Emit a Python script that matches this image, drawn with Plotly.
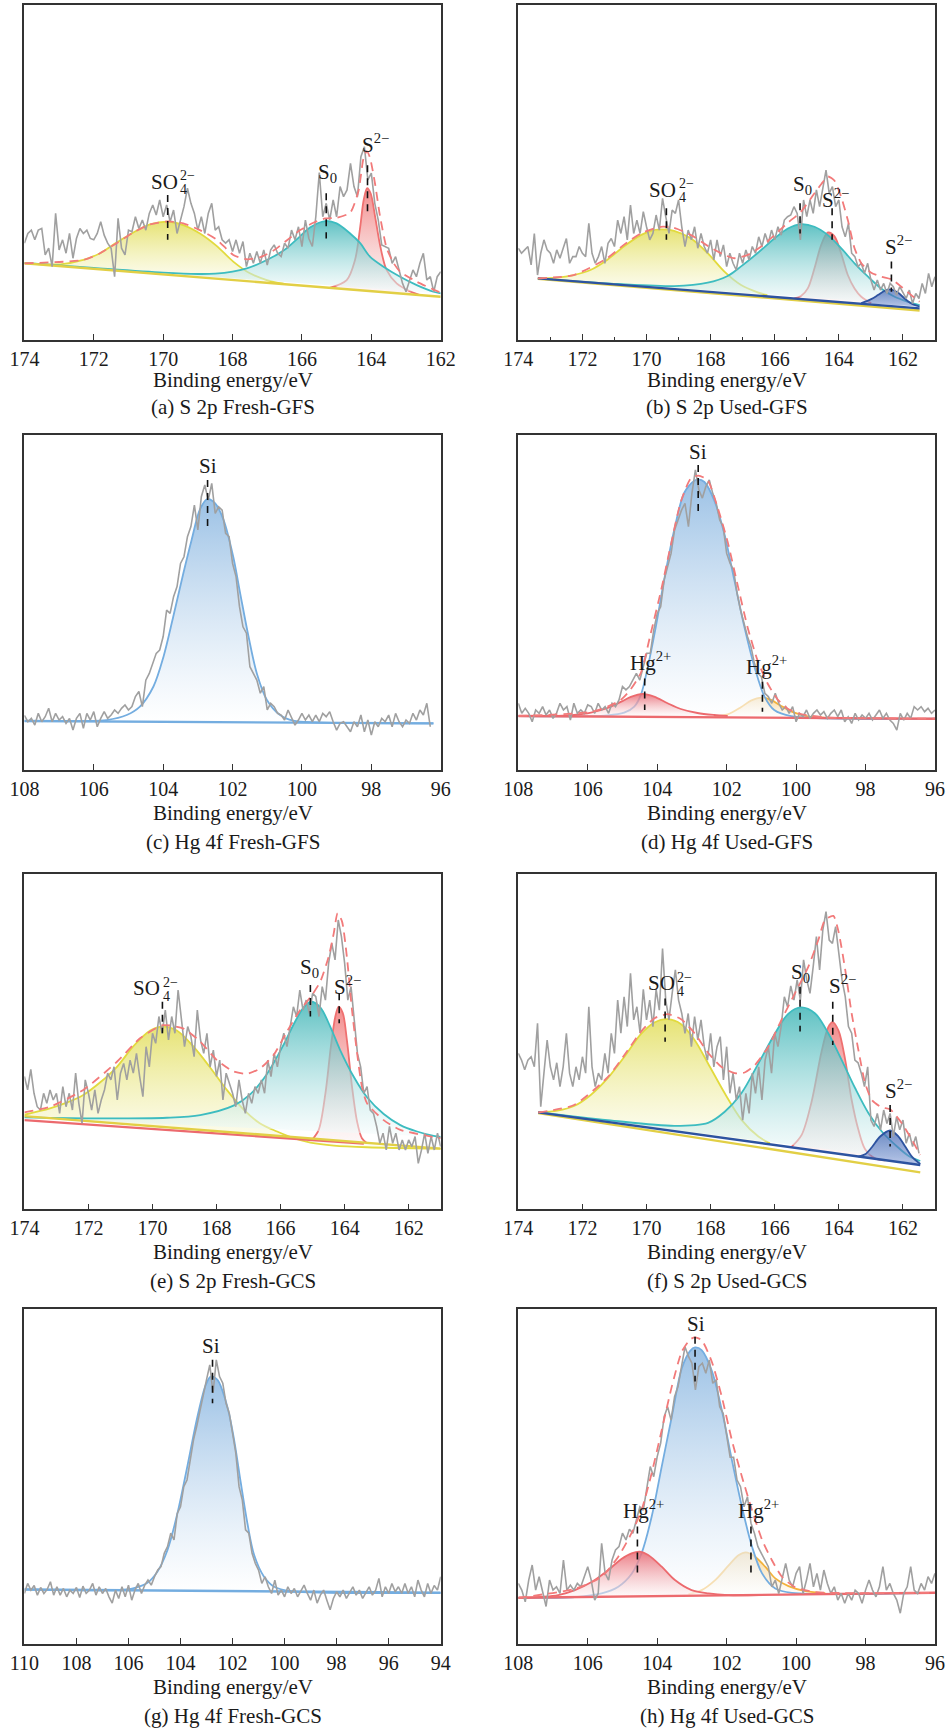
import plotly.graph_objects as go
from plotly.subplots import make_subplots

# ---------------- (a) S 2p Fresh-GFS ----------------
A_E0, A_DE = 174.0, -0.1
A_RAW = [28.9, 31.8, 32.8, 29.9, 32.8, 33.3, 25.4, 27.4, 21.9, 37.8,
         26.9, 29.9, 25.9, 31.8, 24.4, 30.3, 33.3, 31.8, 32.8, 30.3,
         29.9, 31.8, 35.3, 31.3, 28.9, 27.4, 18.9, 36.3, 27.4, 25.4,
         32.8, 32.3, 36.8, 33.3, 35.8, 32.8, 37.8, 40.3, 37.3, 41.8,
         36.8, 40.3, 35.3, 38.8, 31.8, 36.3, 39.8, 45.3, 40.8, 37.8,
         32.8, 36.8, 31.8, 37.8, 40.8, 32.8, 33.8, 29.9, 28.9, 29.9,
         26.4, 29.9, 25.9, 29.4, 21.9, 25.9, 22.9, 26.4, 22.9, 26.9,
         22.4, 26.9, 28.4, 25.9, 24.9, 28.9, 27.4, 32.8, 29.9, 33.8,
         27.9, 35.8, 30.3, 27.9, 36.8, 50.0, 36.8, 40.8, 35.8, 41.8,
         36.8, 45.8, 42.8, 44.8, 52.7, 45.8, 42.8, 54.7, 57.7, 47.8,
         49.8, 40.8, 35.8, 28.4, 27.9, 27.4, 22.9, 24.9, 20.9, 16.9,
         14.4, 17.9, 20.9, 18.9, 22.9, 25.9, 17.9, 18.9, 14.4, 18.9,
         20.4]
A_BASE_E = [174.0, 162.0]
A_BASE = [22.9, 12.9]
A_SO4_E = [174.0, 172.97, 172.30, 171.82, 171.34, 170.86, 170.38, 169.85, 169.42, 168.94, 168.46, 167.98, 167.50, 167.01, 166.53]
A_SO4 = [22.9, 22.6, 23.9, 25.9, 29.1, 32.1, 34.5, 35.3, 34.3, 31.8, 28.1, 23.4, 19.9, 17.9, 16.8]
A_S0_E = [174.0, 172.0, 170.0, 169.0, 168.5, 168.0, 167.59, 167.21, 166.82, 166.44, 166.05, 165.77, 165.33, 165.00, 164.61, 164.32, 164.04, 163.65, 163.17, 162.69, 162.21, 162.0]
A_S0 = [23.0, 21.5, 20.1, 19.7, 19.8, 20.4, 21.4, 22.9, 24.9, 27.4, 31.0, 33.6, 35.5, 34.8, 31.8, 28.9, 24.9, 21.9, 18.9, 16.4, 14.4, 13.9]
A_S2_E = [165.2, 164.71, 164.47, 164.32, 164.22, 164.12, 164.02, 163.89, 163.74, 163.56, 163.27, 162.9, 162.6]
A_S2 = [15.6, 17.9, 23.9, 33.8, 41.8, 45.3, 43.8, 36.8, 27.9, 20.9, 16.9, 14.6, 13.4]
A_FIT_E = [174.0, 172.30, 171.82, 171.34, 170.86, 170.38, 169.85, 169.42, 168.94, 168.46, 167.98, 167.59, 167.21, 166.82, 166.44, 166.05,
           165.67, 165.33, 165.00, 164.61, 164.37, 164.23, 164.13, 164.04, 163.89, 163.75, 163.56, 163.36, 163.17, 162.69, 162.0]
A_FIT = [22.9, 23.9, 25.9, 28.9, 32.1, 34.5, 35.4, 34.8, 32.8, 30.0, 25.4, 24.1, 24.7, 26.7, 29.7, 32.8,
         35.0, 36.3, 36.5, 38.0, 44.5, 54.0, 56.4, 54.5, 46.5, 37.0, 27.5, 23.0, 20.4, 17.4, 14.1]
A_LABELS = [("SO4", 169.97, 47.3), ("S0", 165.43, 49.8), ("S2", 164.15, 58.7)]
A_MARKS = [(169.87, 43.3, 29.9), (165.30, 43.8, 30.3), (164.11, 52.2, 38.3)]

# ---------------- (b) S 2p Used-GFS ----------------
B_E0, B_DE = 174.0, -0.1
B_RAW = [27.4, 25.9, 26.9, 27.9, 22.4, 31.8, 19.4, 25.9, 29.9, 26.9,
         25.9, 22.9, 26.9, 24.4, 27.4, 30.3, 22.9, 24.9, 24.9, 27.9,
         25.9, 24.9, 34.8, 25.9, 22.9, 24.9, 27.9, 22.9, 28.9, 30.3,
         27.9, 35.8, 31.8, 36.8, 29.9, 40.3, 31.8, 35.8, 31.8, 38.3,
         33.8, 29.9, 31.8, 37.3, 32.8, 42.3, 36.8, 31.8, 38.8, 37.8,
         41.8, 33.8, 27.9, 32.8, 29.9, 33.8, 27.4, 31.8, 27.9, 25.9,
         29.9, 23.9, 29.9, 24.9, 28.4, 21.9, 25.9, 22.9, 20.9, 25.9,
         22.9, 26.9, 23.9, 27.9, 25.9, 30.8, 27.9, 31.8, 28.9, 32.8,
         29.9, 33.8, 31.3, 35.8, 36.8, 37.3, 39.8, 37.8, 29.9, 41.8,
         36.8, 41.8, 37.8, 44.8, 39.8, 45.8, 50.7, 43.8, 45.8, 39.8,
         41.8, 33.8, 30.8, 34.8, 25.9, 24.9, 21.9, 22.9, 19.9, 22.9,
         17.9, 14.9, 17.9, 14.9, 16.9, 13.9, 16.9, 15.9, 13.4, 15.9,
         13.9, 12.4, 14.9, 10.9, 13.9, 12.4, 16.9, 13.9, 19.9, 15.9,
         18.9]
B_BASE_E = [173.39, 161.48]
B_BASE = [18.4, 9.45]
B_YBASE = [18.3, 8.8]
B_SO4_E = [173.39, 172.79, 172.27, 171.75, 171.23, 170.71, 170.18, 169.86, 169.55, 169.14, 168.61, 168.09, 167.57, 167.05, 166.53, 166.23]
B_SO4 = [18.4, 18.6, 19.4, 20.9, 23.9, 27.9, 31.3, 32.6, 33.0, 32.6, 30.3, 25.9, 20.4, 16.4, 14.2, 13.4]
B_S0_E = [173.39, 171.23, 169.14, 168.09, 167.47, 167.06, 166.54, 166.01, 165.59, 165.18, 164.76, 164.34, 163.93, 163.51, 163.09, 162.68, 162.26, 161.84, 161.48]
B_S0 = [18.4, 16.9, 16.1, 17.1, 19.1, 21.9, 25.9, 30.3, 33.3, 34.6, 33.8, 31.3, 27.4, 22.9, 18.9, 15.4, 12.9, 11.4, 10.4]
B_S2_E = [165.39, 165.18, 164.97, 164.76, 164.55, 164.34, 164.14, 163.93, 163.72, 163.51, 163.30, 162.99]
B_S2 = [12.4, 13.1, 15.4, 21.4, 28.4, 32.1, 31.0, 25.9, 19.4, 15.4, 12.9, 11.0]
B_S2B_E = [163.30, 162.99, 162.78, 162.57, 162.39, 162.16, 161.95, 161.74, 161.48]
B_S2B = [11.0, 12.2, 13.4, 14.7, 15.1, 14.2, 12.4, 10.9, 10.0]
B_FIT_E = [173.39, 172.27, 171.23, 170.71, 170.18, 169.55, 169.14, 168.61, 168.09, 167.57, 167.25, 166.84, 166.42, 166.01, 165.59,
           165.18, 164.76, 164.55, 164.34, 164.14, 163.93, 163.72, 163.51, 163.30, 162.99, 162.68, 162.36, 162.05, 161.74, 161.48]
B_FIT = [18.4, 19.4, 24.4, 28.4, 31.8, 33.8, 33.5, 31.3, 28.1, 25.4, 24.4, 25.4, 27.9, 31.3, 35.0,
         38.3, 43.8, 46.5, 48.8, 47.6, 42.8, 35.8, 27.4, 22.9, 20.1, 18.9, 18.1, 15.9, 13.4, 11.4]
B_LABELS = [("SO4", 169.5, 44.8), ("S0", 165.31, 46.3), ("S2", 164.40, 42.3), ("S2", 162.42, 28.2)]
B_MARKS = [(169.38, 39.3, 29.9), (165.21, 40.8, 31.8), (164.21, 39.3, 29.9), (162.36, 23.4, 14.4)]

# ---------------- (c) Hg 4f Fresh-GFS ----------------
C_E0, C_DE = 108.0, -0.1
C_RAW = [16.3, 14.4, 15.4, 13.4, 16.9, 14.4, 15.9, 18.4, 14.4, 16.9,
         14.9, 15.9, 13.9, 15.4, 11.9, 15.4, 16.9, 12.4, 16.9, 14.9,
         17.4, 12.9, 15.4, 17.4, 15.4, 16.4, 17.9, 16.9, 18.4, 19.4,
         17.9, 18.9, 21.9, 23.4, 18.9, 26.8, 28.8, 31.8, 34.8, 35.8,
         39.8, 47.7, 46.7, 51.7, 54.7, 61.6, 63.6, 69.6, 72.6, 79.0,
         71.6, 81.5, 85.0, 80.5, 85.5, 76.5, 78.5, 77.5, 70.6, 69.6,
         61.6, 57.7, 48.7, 42.7, 40.8, 30.8, 28.8, 26.8, 22.9, 24.9,
         17.9, 19.9, 18.9, 16.9, 16.4, 14.9, 17.9, 15.4, 13.4, 14.9,
         16.9, 14.9, 16.4, 14.4, 16.4, 14.4, 16.9, 15.9, 17.4, 14.4,
         11.9, 13.9, 14.4, 12.9, 11.4, 14.4, 12.9, 16.4, 11.4, 14.9,
         10.4, 14.4, 12.9, 15.4, 14.4, 16.4, 12.9, 16.9, 14.4, 12.9,
         14.9, 13.9, 16.9, 14.9, 17.9, 16.4, 19.9, 12.9]
C_BASE_E = [108.0, 96.21]
C_BASE = [14.6, 13.9]
C_SI_E = [108.00, 106.30, 105.63, 105.05, 104.67, 104.28, 103.99, 103.71, 103.42, 103.18, 102.94, 102.73,
          102.50, 102.26, 101.98, 101.78, 101.54, 101.30, 101.01, 100.63, 100.25, 99.57, 96.21]
C_SI = [14.6, 14.6, 14.9, 16.4, 18.9, 24.9, 33.8, 45.7, 58.6, 68.6, 77.7, 80.8,
        79.5, 74.6, 63.6, 52.7, 39.8, 28.8, 20.9, 16.4, 14.7, 14.2, 13.9]
C_LABELS = [("Si", 102.72, 90.8)]
C_MARKS = [(102.72, 86.5, 72.6)]

# ---------------- (d) Hg 4f Used-GFS ----------------
D_E0, D_DE = 108.0, -0.1
D_RAW = [19.9, 16.9, 18.4, 16.9, 14.4, 17.9, 16.9, 18.9, 16.4, 17.9,
         15.4, 16.9, 19.9, 17.9, 18.9, 14.9, 19.9, 16.9, 17.9, 16.9,
         19.4, 18.9, 16.9, 19.9, 17.9, 18.9, 16.9, 19.9, 18.9, 20.9,
         24.9, 23.9, 24.9, 26.8, 28.8, 26.8, 30.8, 34.8, 34.8, 41.7,
         46.7, 48.7, 56.7, 60.6, 64.6, 71.6, 74.6, 77.5, 79.5, 72.6,
         82.5, 89.5, 83.5, 81.1, 84.5, 86.5, 82.5, 79.5, 74.6, 72.6,
         64.6, 61.6, 59.6, 52.7, 47.7, 43.7, 39.8, 36.8, 31.8, 28.8,
         27.8, 22.9, 21.9, 19.9, 22.9, 19.9, 17.9, 18.9, 16.9, 18.9,
         14.4, 16.9, 15.9, 17.9, 15.4, 16.9, 17.9, 16.4, 17.4, 15.4,
         16.9, 17.9, 15.9, 17.9, 14.4, 15.9, 13.9, 16.9, 14.9, 16.4,
         15.4, 16.9, 14.9, 16.4, 17.9, 15.4, 16.9, 14.9, 13.9, 11.9,
         16.9, 14.9, 16.9, 15.4, 18.9, 17.9, 18.9, 17.4, 18.4, 16.9,
         17.9]
D_BASE_E = [108.0, 96.0]
D_BASE = [16.1, 15.3]
D_SI_E = [108.00, 105.43, 104.95, 104.66, 104.47, 104.28, 104.04, 103.80, 103.51, 103.22, 102.93,
          102.82, 102.64, 102.36, 102.07, 101.78, 101.49, 101.20, 100.91, 100.63, 100.14, 96.00]
D_SI = [16.1, 16.3, 17.1, 18.9, 22.4, 30.3, 42.7, 56.7, 71.6, 82.7, 86.3,
        86.7, 85.9, 80.5, 70.6, 56.7, 42.7, 30.8, 21.9, 17.9, 16.1, 15.3]
D_HG1_E = [106.88, 106.39, 105.91, 105.43, 105.05, 104.76, 104.42, 104.09, 103.70, 103.32, 102.84, 102.36, 101.97]
D_HG1 = [16.1, 16.4, 17.1, 18.5, 20.3, 21.8, 22.7, 21.9, 19.9, 18.2, 17.0, 16.4, 16.1]
D_HG2_E = [102.36, 101.97, 101.59, 101.30, 100.99, 100.72, 100.43, 100.05, 99.66, 99.18]
D_HG2 = [16.0, 16.6, 18.7, 20.7, 21.6, 20.9, 19.1, 17.1, 16.0, 15.6]
D_FIT_E = [108.0, 105.91, 105.43, 105.05, 104.76, 104.47, 104.18, 103.89, 103.61, 103.32, 103.03, 102.82,
           102.55, 102.26, 101.97, 101.68, 101.39, 101.11, 100.82, 100.53, 100.24, 99.86, 99.18, 96.0]
D_FIT = [16.1, 17.3, 18.9, 20.9, 24.1, 29.0, 41.0, 53.5, 67.0, 80.0, 87.0, 87.8,
         86.5, 78.3, 68.0, 55.0, 42.3, 32.7, 25.8, 21.0, 18.3, 16.7, 15.7, 15.3]
D_LABELS = [("Si", 102.82, 94.9), ("Hg", 104.47, 32.3), ("Hg", 101.13, 31.3)]
D_MARKS = [(102.82, 91.0, 76.5), (104.36, 27.3, 17.9), (100.97, 26.3, 17.4)]

# ---------------- (e) S 2p Fresh-GCS ----------------
E_E0, E_DE = 174.0, -0.1
E_RAW = [39.6, 35.6, 41.7, 34.6, 30.6, 29.6, 34.6, 31.6, 35.6, 32.6,
         34.6, 28.6, 36.6, 30.6, 34.6, 29.6, 40.6, 31.6, 25.6, 38.6,
         34.6, 29.6, 35.6, 28.6, 32.6, 35.6, 40.6, 38.6, 42.5, 32.6,
         40.6, 43.5, 38.6, 44.5, 40.6, 46.5, 39.6, 33.6, 48.5, 42.5,
         52.5, 49.5, 57.5, 52.5, 59.4, 50.5, 57.5, 52.5, 65.4, 56.5,
         48.5, 54.5, 51.5, 45.5, 59.4, 50.5, 46.5, 52.5, 42.5, 47.5,
         39.6, 44.5, 32.6, 40.6, 37.6, 34.6, 30.6, 38.6, 32.6, 28.6,
         34.6, 31.6, 36.6, 34.6, 38.6, 34.6, 44.5, 39.6, 46.5, 42.5,
         48.5, 52.5, 48.5, 55.2, 60.4, 57.5, 65.4, 59.4, 62.4, 58.4,
         64.4, 63.4, 57.5, 66.4, 62.4, 73.4, 79.3, 74.4, 86.3, 81.3,
         73.4, 62.4, 66.4, 56.5, 46.5, 42.5, 34.6, 36.6, 29.6, 28.6,
         24.7, 19.7, 22.7, 17.7, 24.7, 19.7, 22.7, 17.7, 20.7, 17.7,
         20.7, 18.7, 21.7, 13.7, 17.7, 22.7, 16.7, 21.7, 17.7, 22.7,
         18.7]
E_YBASE_E = [174.0, 161.0]
E_YBASE = [27.8, 18.1]
E_RBASE_E = [174.0, 163.4]
E_RBASE = [26.6, 19.6]
E_SO4_E = [174.00, 173.20, 172.68, 172.16, 171.64, 171.11, 170.59, 170.07, 169.68, 169.24, 168.72,
           168.20, 167.68, 167.16, 166.64, 166.11, 165.59, 165.07, 164.34, 163.30, 161.00]
E_SO4 = [28.2, 30.1, 31.8, 34.1, 37.8, 42.5, 48.7, 53.3, 54.5, 53.3, 48.5,
         42.3, 35.6, 29.8, 25.6, 23.2, 21.2, 19.9, 19.0, 18.5, 18.1]
E_S0_E = [174.00, 171.64, 169.55, 168.51, 167.47, 166.95, 166.43, 165.91, 165.59, 165.28, 165.05,
          164.76, 164.45, 164.14, 163.72, 163.30, 162.78, 162.26, 161.74, 161.22, 161.00]
E_S0 = [27.4, 27.1, 27.3, 28.1, 30.9, 34.3, 40.3, 49.0, 55.2, 60.2, 61.9,
        60.2, 54.5, 47.5, 39.6, 33.4, 28.4, 25.1, 23.2, 21.9, 21.6]
E_S2_E = [165.02, 164.81, 164.60, 164.43, 164.29, 164.19, 164.06, 163.93, 163.77, 163.61, 163.46, 163.30]
E_S2 = [20.7, 23.7, 34.6, 48.5, 57.5, 60.4, 58.6, 50.5, 36.6, 26.1, 21.2, 19.7]
E_FIT_E = [174.0, 173.20, 172.16, 171.11, 170.39, 169.68, 169.03, 168.51, 167.99, 167.47, 167.05, 166.64, 166.22, 165.80, 165.39,
           165.02, 164.76, 164.50, 164.34, 164.22, 164.08, 163.93, 163.77, 163.61, 163.46, 163.30, 162.78, 162.26, 161.0]
E_FIT = [28.9, 30.6, 35.6, 44.0, 51.0, 54.9, 53.9, 50.0, 44.5, 41.1, 40.4, 42.0, 46.0, 53.0, 59.4,
         63.9, 67.9, 75.3, 82.3, 88.3, 85.8, 75.3, 59.4, 46.5, 36.6, 31.6, 26.6, 23.7, 21.2]
E_LABELS = [("SO4", 170.18, 65.9), ("S0", 165.26, 71.9), ("S2", 164.22, 66.6)]
E_MARKS = [(169.69, 61.9, 52.5), (165.07, 66.9, 57.5), (164.17, 64.4, 55.5)]

# ---------------- (f) S 2p Used-GCS ----------------
F_E0, F_DE = 174.0, -0.1
F_RAW = [46.5, 44.5, 41.6, 44.5, 45.5, 42.5, 55.5, 30.6, 40.6, 50.5,
         42.5, 38.6, 43.7, 36.6, 42.5, 52.5, 40.6, 36.6, 42.5, 38.6,
         45.5, 40.6, 60.4, 42.5, 36.6, 40.6, 38.6, 46.5, 40.6, 52.5,
         46.5, 62.4, 52.5, 63.4, 54.5, 70.4, 56.5, 60.4, 52.5, 65.6,
         56.5, 62.4, 54.5, 65.6, 59.4, 77.8, 62.4, 56.5, 64.4, 71.4,
         62.4, 58.4, 52.5, 58.4, 48.5, 57.5, 50.5, 56.5, 48.5, 44.5,
         52.5, 42.5, 48.5, 51.5, 38.6, 48.5, 34.6, 40.6, 32.6, 36.6,
         26.6, 34.6, 28.6, 40.6, 34.6, 42.5, 32.6, 44.5, 48.5, 40.6,
         52.5, 48.5, 54.5, 63.4, 60.4, 66.6, 62.4, 68.4, 62.4, 74.4,
         68.4, 64.4, 72.4, 81.3, 71.4, 83.3, 88.8, 80.3, 79.3, 84.3,
         76.3, 68.4, 63.4, 54.5, 52.5, 44.5, 43.7, 40.6, 36.6, 42.5,
         26.6, 24.7, 28.6, 23.7, 29.6, 25.6, 28.6, 21.7, 27.6, 23.7,
         26.6, 19.7, 22.7, 18.7, 21.7, 16.7]
F_BASE_E = [173.38, 161.46]
F_BASE = [28.9, 13.2]
F_YBASE = [28.7, 11.0]
F_SO4_E = [173.38, 172.78, 172.26, 171.74, 171.21, 170.69, 170.17, 169.75, 169.34, 168.92, 168.50, 168.08, 167.56, 167.03, 166.51, 166.15]
F_SO4 = [28.9, 29.4, 30.8, 34.1, 39.1, 45.5, 52.3, 55.7, 56.7, 55.2, 50.5, 43.5, 34.6, 26.6, 21.7, 19.7]
F_S0_E = [173.38, 171.21, 169.13, 168.08, 167.56, 167.04, 166.52, 166.00, 165.58, 165.18, 164.74, 164.33, 163.91, 163.49, 163.07, 162.66, 162.24, 161.82, 161.46]
F_S0 = [28.9, 26.6, 24.9, 25.8, 29.1, 34.6, 43.3, 52.3, 58.3, 60.2, 58.4, 52.5, 44.5, 36.1, 28.6, 23.2, 19.2, 15.9, 14.4]
F_S2_E = [165.47, 165.16, 164.85, 164.54, 164.33, 164.20, 164.01, 163.80, 163.60, 163.39, 163.18, 162.87, 162.55]
F_S2 = [18.7, 22.2, 32.1, 47.0, 54.3, 55.8, 53.3, 44.5, 32.6, 23.7, 17.9, 15.2, 14.6]
F_S2B_E = [163.39, 163.18, 162.97, 162.71, 162.40, 162.14, 161.93, 161.72, 161.46]
F_S2B = [15.7, 16.4, 18.5, 21.7, 23.5, 21.7, 18.7, 15.7, 13.5]
F_FIT_E = [173.38, 172.26, 171.21, 170.69, 170.17, 169.75, 169.34, 168.92, 168.50, 168.08, 167.67, 167.25, 166.94, 166.62, 166.20, 165.79,
           165.37, 164.95, 164.64, 164.43, 164.17, 164.01, 163.80, 163.60, 163.39, 163.18, 162.97, 162.66, 162.40, 162.03, 161.72, 161.46]
F_FIT = [28.9, 31.1, 39.4, 46.0, 53.0, 57.0, 58.2, 56.7, 52.5, 46.7, 42.5, 40.6, 40.8, 43.0, 48.5, 56.5,
         64.4, 72.4, 80.3, 86.3, 87.5, 82.8, 71.4, 58.4, 47.5, 37.6, 32.6, 30.4, 29.8, 25.6, 20.7, 16.2]
F_LABELS = [("SO4", 169.54, 67.4), ("S0", 165.37, 70.4), ("S2", 164.17, 66.9), ("S2", 162.45, 35.6)]
F_MARKS = [(169.42, 62.9, 50.0), (165.21, 66.4, 53.0), (164.19, 61.9, 49.0), (162.40, 31.1, 18.7)]

# ---------------- (g) Hg 4f Fresh-GCS ----------------
G_E0, G_DE = 110.0, -0.125
G_RAW = [15.1, 18.1, 16.1, 17.5, 14.6, 16.9, 15.1, 16.3, 18.6, 14.6,
         17.1, 14.6, 16.6, 14.1, 16.1, 15.1, 16.9, 13.9, 17.3, 15.1,
         16.1, 18.1, 14.6, 17.1, 15.1, 16.6, 14.1, 12.2, 16.1, 13.6,
         17.1, 14.1, 17.6, 13.1, 16.1, 18.1, 15.1, 17.6, 19.1, 17.6,
         20.1, 22.1, 23.1, 27.1, 29.1, 33.1, 31.1, 39.0, 41.0, 47.0,
         49.0, 55.0, 61.0, 65.1, 70.0, 74.0, 79.0, 83.4, 75.0, 84.9,
         79.9, 77.9, 71.9, 68.9, 62.9, 57.0, 47.0, 43.0, 34.1, 33.1,
         27.1, 24.1, 22.1, 18.1, 20.1, 17.1, 15.1, 19.1, 14.6, 16.1,
         14.1, 17.1, 15.1, 16.6, 14.1, 16.1, 17.6, 15.1, 13.1, 16.1,
         12.2, 14.6, 16.1, 13.1, 10.2, 13.6, 15.6, 14.1, 16.1, 13.6,
         15.6, 17.1, 14.6, 16.1, 13.6, 15.6, 17.1, 14.6, 16.1, 19.6,
         14.1, 17.1, 15.1, 18.1, 15.6, 17.1, 15.1, 18.1, 15.1, 17.1,
         14.1, 19.1, 16.1, 14.1, 18.1, 15.1, 17.5, 16.1, 20.1]
G_BASE_E = [110.0, 94.0]
G_BASE = [16.3, 15.3]
G_SI_E = [110.00, 106.43, 105.79, 105.27, 104.89, 104.50, 104.12, 103.74, 103.35, 103.03, 102.84,
          102.58, 102.20, 101.94, 101.69, 101.43, 101.17, 100.79, 100.40, 99.76, 94.00]
G_SI = [16.3, 16.1, 16.7, 18.3, 21.6, 28.1, 39.0, 53.0, 67.9, 77.4, 79.9,
        78.9, 70.9, 61.0, 48.5, 36.1, 26.6, 20.1, 17.1, 15.8, 15.3]
G_LABELS = [("Si", 102.81, 89.1)]
G_MARKS = [(102.77, 84.9, 71.9)]

# ---------------- (h) Hg 4f Used-GCS ----------------
H_E0, H_DE = 108.0, -0.1
H_RAW = [18.1, 16.1, 12.6, 19.1, 23.6, 16.1, 20.1, 15.1, 11.2, 19.1,
         16.1, 17.1, 15.1, 25.1, 16.1, 17.6, 16.1, 18.1, 17.1, 20.1,
         23.1, 19.1, 13.1, 15.1, 30.1, 21.1, 19.1, 25.1, 28.1, 29.1,
         33.1, 31.1, 34.3, 33.1, 37.1, 41.0, 40.0, 47.0, 53.0, 50.0,
         56.0, 60.0, 67.9, 70.9, 66.9, 73.9, 76.9, 82.9, 88.8, 85.9,
         83.9, 75.9, 82.9, 83.9, 80.9, 84.9, 77.9, 78.9, 70.9, 68.9,
         62.9, 55.8, 55.8, 49.0, 47.0, 41.0, 44.0, 36.1, 33.1, 29.1,
         27.1, 25.1, 23.1, 17.1, 19.1, 15.1, 20.1, 24.1, 19.1, 17.1,
         21.1, 23.1, 15.1, 19.1, 24.1, 17.1, 21.1, 16.1, 22.1, 18.1,
         15.1, 17.1, 13.1, 15.1, 12.2, 15.1, 13.1, 16.1, 15.1, 12.2,
         16.1, 19.1, 16.1, 14.1, 17.1, 23.1, 16.1, 18.1, 15.1, 13.1,
         9.2, 15.1, 17.1, 23.1, 16.1, 15.1, 18.1, 16.1, 20.1, 18.1,
         21.1]
H_BASE_E = [108.0, 96.0]
H_BASE = [13.8, 15.3]
H_SI_E = [108.00, 106.37, 105.60, 105.12, 104.74, 104.45, 104.16, 103.87, 103.58, 103.29, 103.05,
          102.91, 102.72, 102.43, 102.14, 101.85, 101.56, 101.27, 100.98, 100.60, 100.12, 96.00]
H_SI = [13.8, 14.0, 15.1, 17.1, 20.9, 27.1, 38.0, 53.0, 67.9, 82.4, 87.6,
        88.6, 87.8, 81.7, 69.9, 55.0, 41.0, 29.1, 21.1, 16.6, 15.3, 15.3]
H_HG1_E = [108.00, 107.34, 106.85, 106.37, 105.89, 105.41, 105.03, 104.74, 104.50, 104.26, 103.87, 103.49, 103.01, 102.52, 101.95, 101.08]
H_HG1 = [13.8, 14.1, 14.6, 16.1, 18.5, 22.1, 25.4, 27.1, 27.6, 26.6, 23.1, 19.1, 16.1, 15.1, 14.6, 14.6]
H_HG2_E = [103.10, 102.72, 102.33, 101.95, 101.66, 101.45, 101.18, 100.89, 100.60, 100.22, 99.73, 99.16]
H_HG2 = [14.9, 16.1, 19.1, 23.4, 26.5, 27.4, 26.1, 23.1, 19.6, 17.3, 15.8, 15.2]
H_FIT_E = [108.0, 106.37, 105.60, 105.12, 104.74, 104.45, 104.16, 103.87, 103.58, 103.29, 103.05, 102.91,
           102.72, 102.43, 102.14, 101.85, 101.56, 101.27, 100.98, 100.70, 100.41, 100.02, 99.45, 96.0]
H_FIT = [13.8, 16.5, 20.1, 26.1, 33.1, 40.0, 51.0, 63.9, 76.9, 87.4, 91.0, 91.6,
         90.8, 84.4, 73.9, 60.9, 50.0, 40.0, 31.1, 25.1, 20.1, 16.9, 15.5, 15.3]
H_LABELS = [("Si", 102.89, 95.6), ("Hg", 104.66, 40.2), ("Hg", 101.37, 40.2)]
H_MARKS = [(102.91, 91.8, 78.4), (104.57, 35.1, 21.1), (101.30, 35.1, 21.1)]

CAPTIONS = ["(a) S 2p Fresh-GFS", "(b) S 2p Used-GFS", "(c) Hg 4f Fresh-GFS", "(d) Hg 4f Used-GFS",
            "(e) S 2p Fresh-GCS", "(f) S 2p Used-GCS", "(g) Hg 4f Fresh-GCS", "(h) Hg 4f Used-GCS"]
X_TITLE = "Binding energy/eV"

# ---------------- styles ----------------
FONT = "Liberation Serif"
STY = {
    'yellow': ('#e2da3e', [[0, 'rgba(252,252,236,0.55)'], [1, 'rgba(226,222,92,0.85)']]),
    'cyan': ('#3dbcc0', [[0, 'rgba(246,252,252,0.5)'], [1, 'rgba(55,178,180,0.8)']]),
    'red': ('#ef7070', [[0, 'rgba(250,240,240,0.5)'], [1, 'rgba(240,118,118,0.85)']]),
    'navy': ('#2d53a0', [[0, 'rgba(120,148,210,0.55)'], [1, 'rgba(60,95,175,0.72)']]),
    'si': ('#74ade0', [[0, 'rgba(255,255,255,0.6)'], [1, 'rgba(150,190,228,0.95)']]),
    'hgred': ('#ec6a6e', [[0, 'rgba(255,248,248,0.5)'], [1, 'rgba(232,100,110,0.85)']]),
    'hgorange': ('#f3b23c', [[0, 'rgba(255,252,245,0.5)'], [1, 'rgba(245,200,120,0.8)']]),
}
YEL, NAVY, BLUE, RED = '#e2cf45', '#2d53a0', '#74ade0', '#ec6a6e'

PANELS = [
    dict(xr=[174, 162], minor=False, raw=(A_RAW, A_E0, A_DE),
         comps=[(A_SO4_E, A_SO4, 'yellow'), (A_S2_E, A_S2, 'red'), (A_S0_E, A_S0, 'cyan')],
         bases=[(A_BASE_E, A_BASE, YEL)], fit=(A_FIT_E, A_FIT), labels=A_LABELS, marks=A_MARKS),
    dict(xr=[174, 161], minor=True, raw=(B_RAW, B_E0, B_DE),
         comps=[(B_SO4_E, B_SO4, 'yellow'), (B_S2_E, B_S2, 'red'), (B_S0_E, B_S0, 'cyan'), (B_S2B_E, B_S2B, 'navy')],
         bases=[(B_BASE_E, B_YBASE, YEL), (B_BASE_E, B_BASE, NAVY)], fit=(B_FIT_E, B_FIT), labels=B_LABELS, marks=B_MARKS),
    dict(xr=[108, 96], minor=False, raw=(C_RAW, C_E0, C_DE),
         comps=[(C_SI_E, C_SI, 'si')], bases=[(C_BASE_E, C_BASE, BLUE)], fit=None, labels=C_LABELS, marks=C_MARKS),
    dict(xr=[108, 96], minor=False, raw=(D_RAW, D_E0, D_DE),
         comps=[(D_HG2_E, D_HG2, 'hgorange'), (D_SI_E, D_SI, 'si'), (D_HG1_E, D_HG1, 'hgred')],
         bases=[(D_BASE_E, D_BASE, RED)], fit=(D_FIT_E, D_FIT), labels=D_LABELS, marks=D_MARKS),
    dict(xr=[174, 161], minor=False, raw=(E_RAW, E_E0, E_DE),
         comps=[(E_SO4_E, E_SO4, 'yellow'), (E_S2_E, E_S2, 'red'), (E_S0_E, E_S0, 'cyan')],
         bases=[(E_RBASE_E, E_RBASE, RED), (E_YBASE_E, E_YBASE, YEL)], fit=(E_FIT_E, E_FIT), labels=E_LABELS, marks=E_MARKS),
    dict(xr=[174, 161], minor=False, raw=(F_RAW, F_E0, F_DE),
         comps=[(F_SO4_E, F_SO4, 'yellow'), (F_S2_E, F_S2, 'red'), (F_S0_E, F_S0, 'cyan'), (F_S2B_E, F_S2B, 'navy')],
         bases=[(F_BASE_E, F_YBASE, YEL), (F_BASE_E, F_BASE, NAVY)], fit=(F_FIT_E, F_FIT), labels=F_LABELS, marks=F_MARKS),
    dict(xr=[110, 94], minor=False, raw=(G_RAW, G_E0, G_DE),
         comps=[(G_SI_E, G_SI, 'si')], bases=[(G_BASE_E, G_BASE, BLUE)], fit=None, labels=G_LABELS, marks=G_MARKS),
    dict(xr=[108, 96], minor=False, raw=(H_RAW, H_E0, H_DE),
         comps=[(H_HG2_E, H_HG2, 'hgorange'), (H_SI_E, H_SI, 'si'), (H_HG1_E, H_HG1, 'hgred')],
         bases=[(H_BASE_E, H_BASE, RED)], fit=(H_FIT_E, H_FIT), labels=H_LABELS, marks=H_MARKS),
]

# ---------------- layout geometry (pixels) ----------------
W, H = 949, 1732
COLS_PX = [(24.4, 440.7), (518.3, 935.0)]
ROWS_PX = [(5.0, 340.0), (434.7, 770.0), (874.0, 1209.3), (1309.3, 1644.0)]
TITLE_OFF = [40, 43, 43, 43]
CAP_OFF = [67, 72, 72, 72]

fig = make_subplots(rows=4, cols=2)
annotations = []
TXT = dict(family=FONT, size=21, color='#1a1a1a')
SMALL = dict(family=FONT, size=14, color='#1a1a1a')

for i, p in enumerate(PANELS):
    n = i + 1
    r, c = i // 2 + 1, i % 2 + 1
    xref = 'x' if n == 1 else f'x{n}'
    yref = 'y' if n == 1 else f'y{n}'
    for xs, ys, sty in p['comps']:
        lc, cs = STY[sty]
        fig.add_trace(go.Scatter(x=xs, y=ys, mode='lines',
                                 line=dict(color=lc, width=1.8, shape='spline', smoothing=0.9),
                                 fill='toself', fillgradient=dict(type='vertical', colorscale=cs),
                                 hoverinfo='skip'), row=r, col=c)
    for xs, ys, col in p['bases']:
        fig.add_trace(go.Scatter(x=xs, y=ys, mode='lines', line=dict(color=col, width=2.4),
                                 hoverinfo='skip'), row=r, col=c)
    raw, e0, de = p['raw']
    fig.add_trace(go.Scatter(y=raw, x0=e0, dx=de, mode='lines',
                             line=dict(color='#a0a0a0', width=1.6)), row=r, col=c)
    if p['fit']:
        fx, fy = p['fit']
        fig.add_trace(go.Scatter(x=fx, y=fy, mode='lines',
                                 line=dict(color='#f27a7a', width=1.8, dash='9px,6px', shape='spline', smoothing=0.6),
                                 hoverinfo='skip'), row=r, col=c)
    mx, my = [], []
    for e, top, bot in p['marks']:
        mx += [e, e, None]
        my += [top, bot, None]
    fig.add_trace(go.Scatter(x=mx, y=my, mode='lines',
                             line=dict(color='#111111', width=1.6, dash='7px,6px')), row=r, col=c)
    for kind, e, v in p['labels']:
        base = dict(x=e, y=v, xref=xref, yref=yref, showarrow=False, yanchor='middle', font=TXT)
        if kind == 'Si':
            annotations.append(dict(base, text='Si', xanchor='center'))
        elif kind == 'S0':
            annotations.append(dict(base, text='S<sub>0</sub>', xanchor='left', xshift=-6))
        elif kind == 'S2':
            annotations.append(dict(base, text='S<sup>2−</sup>', xanchor='left', xshift=-6))
        elif kind == 'Hg':
            annotations.append(dict(base, text='Hg<sup>2+</sup>', xanchor='left', xshift=-13))
        elif kind == 'SO4':
            annotations.append(dict(base, text='SO', xanchor='center'))
            annotations.append(dict(base, text='2−', xanchor='left', xshift=14, yshift=6, font=SMALL))
            annotations.append(dict(base, text='4', xanchor='left', xshift=14, yshift=-8, font=SMALL))

    x0p, x1p = COLS_PX[c - 1]
    y0p, y1p = ROWS_PX[r - 1]
    xa = 'xaxis' if n == 1 else f'xaxis{n}'
    ya = 'yaxis' if n == 1 else f'yaxis{n}'
    xcfg = dict(domain=[x0p / W, x1p / W], range=p['xr'], autorange=False, automargin=False, tick0=0, dtick=2,
                ticks='inside', ticklen=6, tickwidth=1.3, tickcolor='#333333',
                showline=True, linecolor='#333333', linewidth=1.6, mirror=True,
                showgrid=False, zeroline=False, tickfont=dict(family=FONT, size=20, color='#1a1a1a'))
    if p['minor']:
        xcfg['minor'] = dict(dtick=1, tick0=0, ticks='inside', ticklen=3, tickwidth=1.2, tickcolor='#333333', showgrid=False)
    ycfg = dict(domain=[1 - y1p / H, 1 - y0p / H], range=[0, 100], autorange=False, automargin=False,
                showticklabels=False, ticks='', showline=True, linecolor='#333333', linewidth=1.6,
                mirror=True, showgrid=False, zeroline=False)
    fig.update_layout({xa: xcfg, ya: ycfg})
    cx = (x0p + x1p) / 2 / W
    annotations.append(dict(x=cx, y=1 - (y1p + TITLE_OFF[r - 1]) / H, xref='paper', yref='paper',
                            text=X_TITLE, showarrow=False, xanchor='center', yanchor='middle', font=TXT))
    annotations.append(dict(x=cx, y=1 - (y1p + CAP_OFF[r - 1]) / H, xref='paper', yref='paper',
                            text=CAPTIONS[i], showarrow=False, xanchor='center', yanchor='middle', font=TXT))

fig.update_layout(width=W, height=H, margin=dict(l=0, r=0, t=0, b=0, autoexpand=False),
                  paper_bgcolor='white', plot_bgcolor='white', showlegend=False,
                  font=dict(family=FONT, color='#1a1a1a'), annotations=annotations)
fig.write_html("out.html", config={'displayModeBar': False},
               post_script="document.body.style.margin='0px';document.body.style.padding='0px';")
